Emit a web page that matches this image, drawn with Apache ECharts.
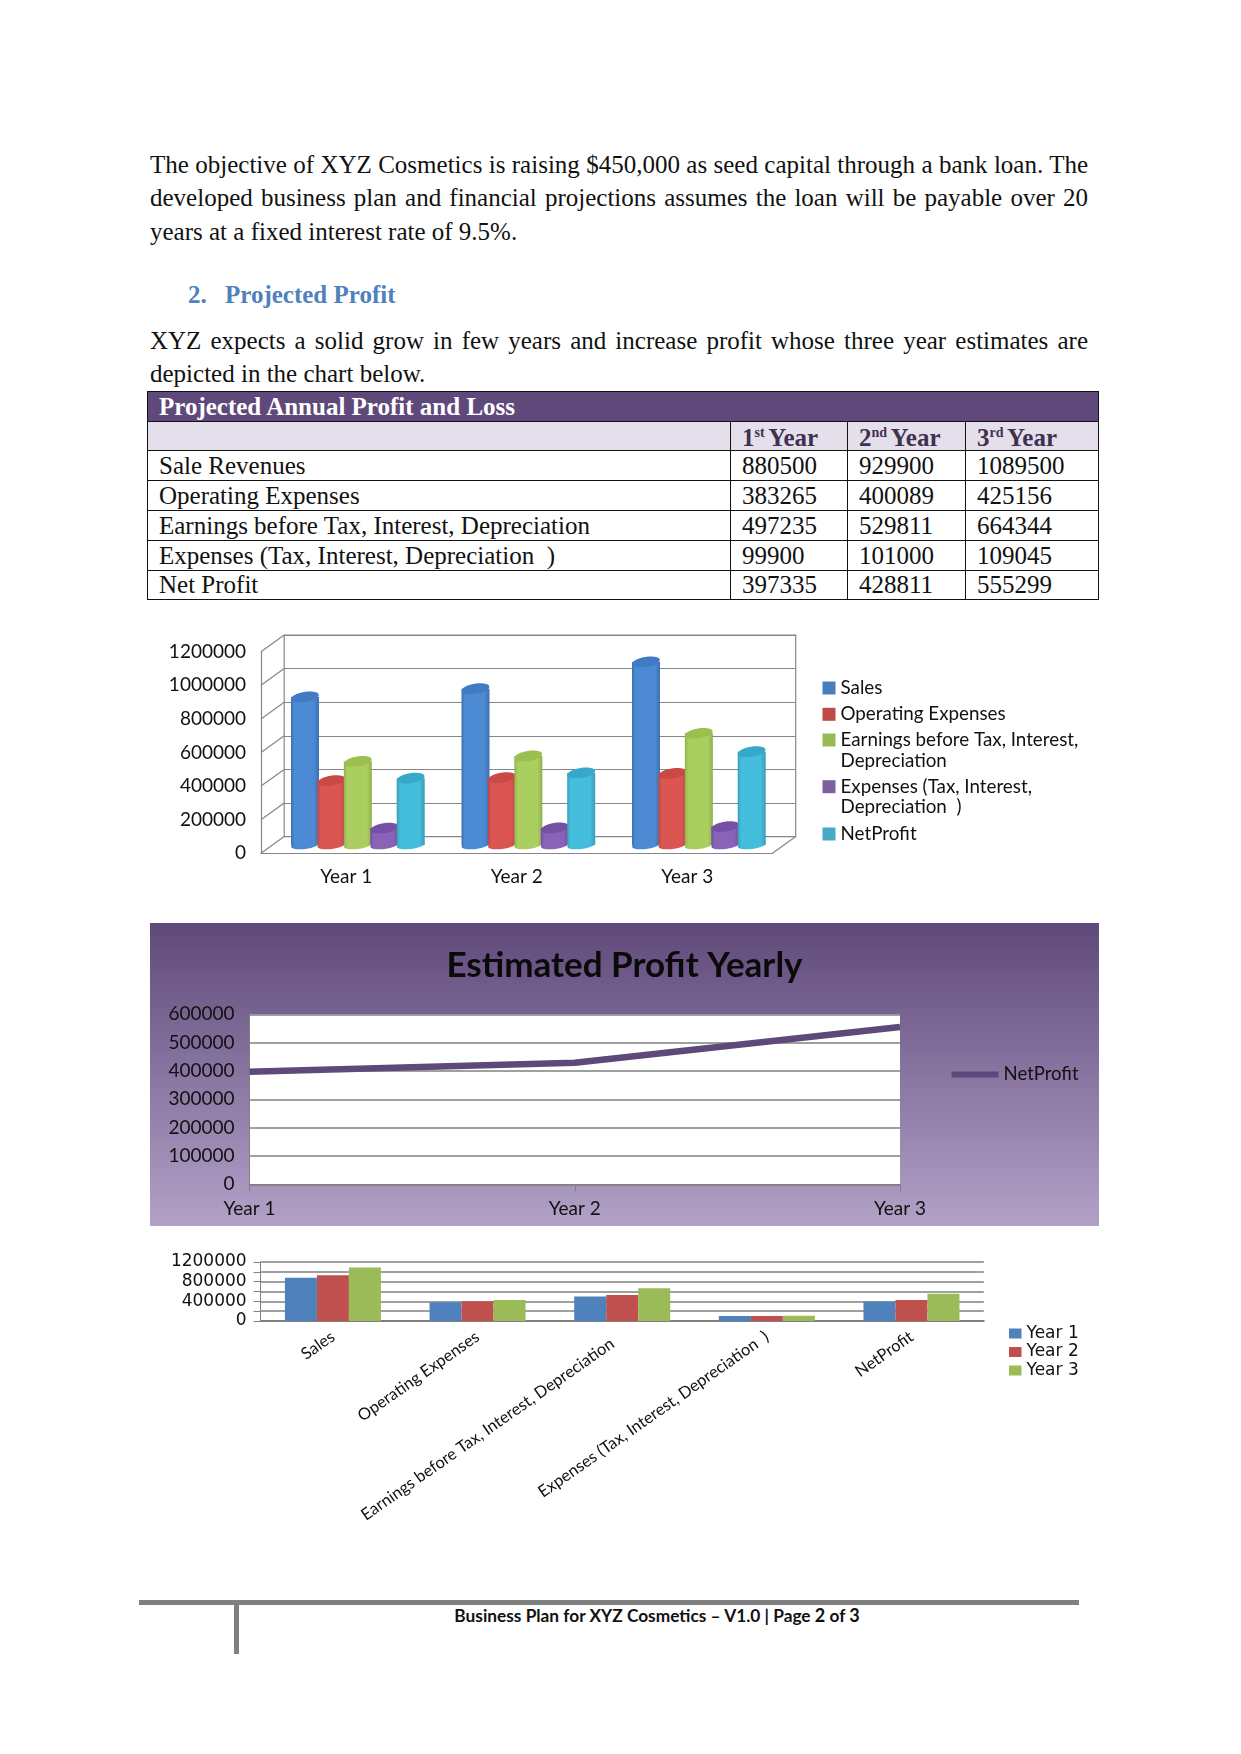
<!DOCTYPE html>
<html><head><meta charset="utf-8">
<script src="https://cdn.jsdelivr.net/npm/echarts@6/dist/echarts.min.js"></script>
<style>
html,body{margin:0;padding:0;background:#fff;}
#page{position:relative;width:1241px;height:1754px;overflow:hidden;font-family:"Liberation Serif",serif;color:#111;}
.abs{position:absolute;}
.para{position:absolute;left:150px;width:938px;font-size:25px;line-height:33.3px;text-align:justify;}
.head{position:absolute;font:bold 25px "Liberation Serif",serif;color:#4F81BD;}
table{position:absolute;left:147px;top:391px;border-collapse:collapse;table-layout:fixed;width:951px;font-size:25px;}
td{border:1.5px solid #111;padding:0 0 0 11px;white-space:pre;overflow:hidden;line-height:26px;}
sup{font-size:14px;line-height:0;vertical-align:9px;}
.foot{position:absolute;background:#808080;}
.chart{position:absolute;}
</style></head><body>
<div id="page">
  <div class="para" style="top:148px" id="p1"></div>
  <div class="head" style="left:188px;top:281px">2.</div>
  <div class="head" style="left:225px;top:281px">Projected Profit</div>
  <div class="para" style="top:324px" id="p2"></div>
  <table id="tbl"></table>
  <div class="chart" id="c1" style="left:150px;top:620px;width:950px;height:280px"></div>
  <div class="chart" id="c2" style="left:150px;top:923px;width:949px;height:303px"></div>
  <div class="chart" id="c3" style="left:150px;top:1240px;width:950px;height:300px"></div>
  <div class="foot" style="left:139px;top:1600px;width:940px;height:5px"></div>
  <div class="foot" style="left:234px;top:1605px;width:5px;height:49px"></div>
  <div class="abs" style="left:357px;width:600px;top:1603px;text-align:center;font:bold 17.3px Lato,sans-serif;line-height:24px;color:#111">Business Plan for XYZ Cosmetics – V1.0 | Page <span style="font-size:18px">2</span> of <span style="font-size:18px">3</span></div>
</div>
<script>
// ---------- document text ----------
const para1 = "The objective of XYZ Cosmetics is raising $450,000 as seed capital through a bank loan. The developed business plan and financial projections assumes the loan will be payable over 20 years at a fixed interest rate of 9.5%.";
const para2 = "XYZ expects a solid grow in few years and increase profit whose three year estimates are depicted in the chart below.";
const tableTitle = "Projected Annual Profit and Loss";
const tableRowNames = ["Sale Revenues","Operating Expenses","Earnings before Tax, Interest, Depreciation","Expenses (Tax, Interest, Depreciation  )","Net Profit"];

// ---------- data ----------
const years = ["Year 1","Year 2","Year 3"];
const seriesNames = ["Sales","Operating Expenses","Earnings before Tax, Interest, Depreciation","Expenses (Tax, Interest, Depreciation  )","NetProfit"];
const sales     = [880500, 929900, 1089500];
const opex      = [383265, 400089, 425156];
const earnings  = [497235, 529811, 664344];
const expenses  = [99900, 101000, 109045];
const netProfit = [397335, 428811, 555299];
const allSeries = [sales, opex, earnings, expenses, netProfit];
const yTicks3d  = [0,200000,400000,600000,800000,1000000,1200000];

// ---------- colours ----------
const swatch = ["#4A7EBB","#BE4B48","#98B954","#7D60A0","#46AAC5"];
const cylLight = ["#4C8AD4","#DB5552","#AACF60","#8A62B8","#45BDDC"];
const cylDark  = ["#3D70B0","#B84A47","#8FB04E","#6F4F96","#3A9CB8"];
const cylTop   = ["#3F7CC4","#CC4845","#9CC04F","#7650A4","#38A8CA"];
const grey = "#868686";
const plainNumber = (v)=>String(v);

document.getElementById('p1').textContent = para1;
document.getElementById('p2').textContent = para2;

// table
(function(){
  const t = document.getElementById('tbl');
  const cols = [583,117,118,133];
  const heights = [30,29,30,30,30,30,29];
  let h = '<colgroup>'+cols.map(c=>`<col style="width:${c}px">`).join('')+'</colgroup>';
  h += `<tr style="height:${heights[0]}px;background:#5F497A;color:#fff;font-weight:bold"><td colspan="4">${tableTitle}</td></tr>`;
  h += `<tr style="height:${heights[1]}px;background:#E5DFEC;font-weight:bold;color:#3F3151"><td></td>`+
       ['1<sup>st </sup>Year','2<sup>nd </sup>Year','3<sup>rd </sup>Year'].map(x=>`<td style="padding-top:2px;line-height:25px">${x}</td>`).join('')+`</tr>`;
  const rows = [sales,opex,earnings,expenses,netProfit];
  tableRowNames.forEach((n,i)=>{
    h += `<tr style="height:${heights[i+2]}px"><td>${n}</td>`+rows[i].map(v=>`<td>${v}</td>`).join('')+'</tr>';
  });
  t.innerHTML = h;
})();

// ---------- chart 1: 3D-look cylinders (origin 150,620) ----------
(function(){
  const ox=150, oy=620;
  const dx=23.2, dy=16.7;                    // depth of the box
  const fL=261, fR=772.5, fT=651.7, fB=853.3; // front plane
  const mk = (shift)=>({left:fL+dx*shift-ox, width:fR-fL, top:fT-dy*shift-oy, height:fB-fT});
  const grids=[mk(0),Object.assign(mk(1),{show:true,borderColor:grey,borderWidth:1.2,backgroundColor:'transparent'}),mk(0.5)];
  const xA=(g,show)=>({type:'category',gridIndex:g,data:years,boundaryGap:true,
      axisTick:{show:false},axisLine:{show:show,lineStyle:{color:grey,width:1.2}},
      axisLabel:{show:show,color:'#111',fontFamily:'Lato',fontSize:19,margin:14}});
  const yA=(g,show,split)=>({type:'value',gridIndex:g,min:0,max:1200000,interval:200000,
      axisTick:{show:false},axisLine:{show:show,lineStyle:{color:grey,width:1.2}},
      splitLine:{show:split,lineStyle:{color:grey,width:1.2}},
      axisLabel:{show:show,color:'#111',fontFamily:'Lato',fontSize:19,margin:15,formatter:plainNumber,padding:[0,0,2,0]}});
  const cyl=(idx)=>function(params,api){
    const catW=api.size([1,0])[0];
    const pitch=catW*0.155, rx=14, ry=5;
    const top=api.coord([api.value(0),api.value(1)]);
    const base=api.coord([api.value(0),0]);
    const cx=top[0]+(idx-2)*pitch;
    const grad=new echarts.graphic.LinearGradient(0,0,1,0,[
      {offset:0,color:cylDark[idx]},{offset:0.12,color:cylLight[idx]},{offset:0.82,color:cylLight[idx]},{offset:1,color:cylDark[idx]}]);
    return {type:'group',children:[
      {type:'ellipse',x:cx,y:base[1],rotation:0.12,shape:{cx:0,cy:0,rx:rx,ry:ry-1},style:{fill:grad}},
      {type:'rect',shape:{x:cx-rx,y:top[1],width:rx*2,height:base[1]-top[1]},style:{fill:grad}},
      {type:'ellipse',x:cx,y:top[1],rotation:0.16,shape:{cx:0,cy:0,rx:rx,ry:ry},style:{fill:cylTop[idx]}}
    ]};
  };
  const series=[0,1,2,3,4].map(i=>({
    name:seriesNames[i],type:'custom',xAxisIndex:2,yAxisIndex:2,
    itemStyle:{color:swatch[i]},z:5+i,
    encode:{x:0,y:1},
    data:allSeries[i].map((v,k)=>[k,v]),
    renderItem:cyl(i)
  }));
  // the depth edges of the box, drawn from the scale of the mid plane
  series.push({type:'custom',xAxisIndex:2,yAxisIndex:2,z:3,silent:true,
    encode:{y:0},
    data:yTicks3d.map(v=>[v]),
    renderItem(params,api){
      const y=api.coord([0,api.value(0)])[1];
      const x=params.coordSys.x;
      const kids=[{type:'line',shape:{x1:x-dx/2,y1:y+dy/2,x2:x+dx/2,y2:y-dy/2},style:{stroke:grey,lineWidth:1.2}}];
      if(api.value(0)===0){
        const xr=x+params.coordSys.width;
        kids.push({type:'line',shape:{x1:xr-dx/2,y1:y+dy/2,x2:xr+dx/2,y2:y-dy/2},style:{stroke:grey,lineWidth:1.2}});
      }
      return {type:'group',children:kids};
    }});
  const legendTops=[678.5,704.8,730.5,777.2,824.5];
  const firstLine=["Sales","Operating Expenses","Earnings before Tax, Interest,","Expenses (Tax, Interest,","NetProfit"];
  const legends=seriesNames.map((n,i)=>({
    data:[n],left:822.5-ox,top:legendTops[i]-oy,padding:0,itemWidth:13,itemHeight:13,itemGap:5,
    icon:'rect',selectedMode:false,
    formatter:()=>firstLine[i],
    textStyle:{fontFamily:'Lato',fontSize:18.8,color:'#111'}
  }));
  const echart=echarts.init(document.getElementById('c1'));
  echart.setOption({
    animation:false,color:swatch,
    grid:grids,
    xAxis:[xA(0,true),xA(1,false),xA(2,false)],
    yAxis:[yA(0,true,false),yA(1,false,true),yA(2,false,false)],
    legend:legends,
    graphic:[
      {type:'text',left:840.5-ox,top:751-oy,style:{text:'Depreciation',font:'18.8px Lato',fill:'#111'}},
      {type:'text',left:840.5-ox,top:797-oy,style:{text:'Depreciation  )',font:'18.8px Lato',fill:'#111'}}
    ],
    series
  });
})();

// ---------- chart 2: line on gradient panel (origin 150,923) ----------
(function(){
  const ox=150, oy=923;
  const c=echarts.init(document.getElementById('c2'));
  c.setOption({
    animation:false,
    backgroundColor:new echarts.graphic.LinearGradient(0,0,0,1,[{offset:0,color:'#5F497A'},{offset:1,color:'#B2A1C7'}]),
    title:{text:'Estimated Profit Yearly',left:'center',top:25,padding:0,
      textStyle:{fontFamily:'Lato',fontWeight:'bold',fontSize:35,color:'#0a0a0a'}},
    grid:{left:249.5-ox,width:650.5,top:1014.3-oy,height:170,backgroundColor:'#fff',show:true,borderWidth:0},
    xAxis:{type:'category',data:years,boundaryGap:false,
      axisLine:{lineStyle:{color:'#808080',width:1.2}},
      axisTick:{length:7,lineStyle:{color:'#808080'}},
      axisLabel:{color:'#111',fontFamily:'Lato',fontSize:19,margin:15},
      splitLine:{show:false}},
    yAxis:{type:'value',min:0,max:600000,interval:100000,
      axisLine:{show:true,lineStyle:{color:'#808080',width:1}},
      axisTick:{show:false},
      splitLine:{lineStyle:{color:'#808080',width:1.6}},
      axisLabel:{color:'#111',fontFamily:'Lato',fontSize:19,margin:15,formatter:plainNumber,padding:[0,0,4,0]}},
    legend:{data:['NetProfit'],left:951.6-ox,top:1074.5-oy-9.5,padding:0,itemWidth:47,itemHeight:6,itemGap:6,
      selectedMode:false,icon:'rect',itemStyle:{color:'#5F497A'},
      textStyle:{fontFamily:'Lato',fontSize:18.5,color:'#111'}},
    series:[{name:'NetProfit',type:'line',data:netProfit,symbol:'none',
      lineStyle:{color:'#5F497A',width:6.5},itemStyle:{color:'#5F497A'}}]
  });
})();

// ---------- chart 3: grouped bars (origin 150,1240) ----------
(function(){
  const oy=1240, ox=150;
  const groupData=years.map((y,k)=>allSeries.map(s=>s[k]));
  const colors=["#4F81BD","#C0504D","#9BBB59"];
  // one long label sits a little further from its tick
  const catItems=seriesNames.map((n,i)=>i===2?{value:n,textStyle:{padding:[0,12,0,0]}}:n);
  const c=echarts.init(document.getElementById('c3'));
  c.setOption({
    animation:false,color:colors,
    grid:{left:260.6-ox,width:723.2,top:1262-oy,height:59},
    xAxis:{type:'category',data:catItems,
      axisLine:{lineStyle:{color:'#808080',width:2}},
      axisTick:{length:6,alignWithLabel:false,lineStyle:{color:'#808080'}},
      axisLabel:{interval:0,rotate:35,color:'#111',fontFamily:'Lato',fontSize:16.4,margin:14}},
    yAxis:{type:'value',min:0,max:1200000,interval:200000,
      axisLine:{show:true,lineStyle:{color:'#808080'}},
      axisTick:{show:true,length:7,lineStyle:{color:'#808080'}},
      splitLine:{lineStyle:{color:'#808080',width:1.5}},
      axisLabel:{color:'#111',fontFamily:'DejaVu Sans',fontSize:17,margin:14,
        formatter:(v)=>v%400000===0?String(v):''}},
    legend:{orient:'vertical',left:1009-ox,top:1325-oy,padding:0,itemWidth:12.5,itemHeight:10,itemGap:1.5,
      icon:'rect',selectedMode:false,
      textStyle:{fontFamily:'DejaVu Sans',fontSize:17,color:'#111'}},
    series:years.map((y,i)=>({name:y,type:'bar',data:groupData[i],barWidth:32,barGap:0}))
  });
})();
</script>
</body></html>
